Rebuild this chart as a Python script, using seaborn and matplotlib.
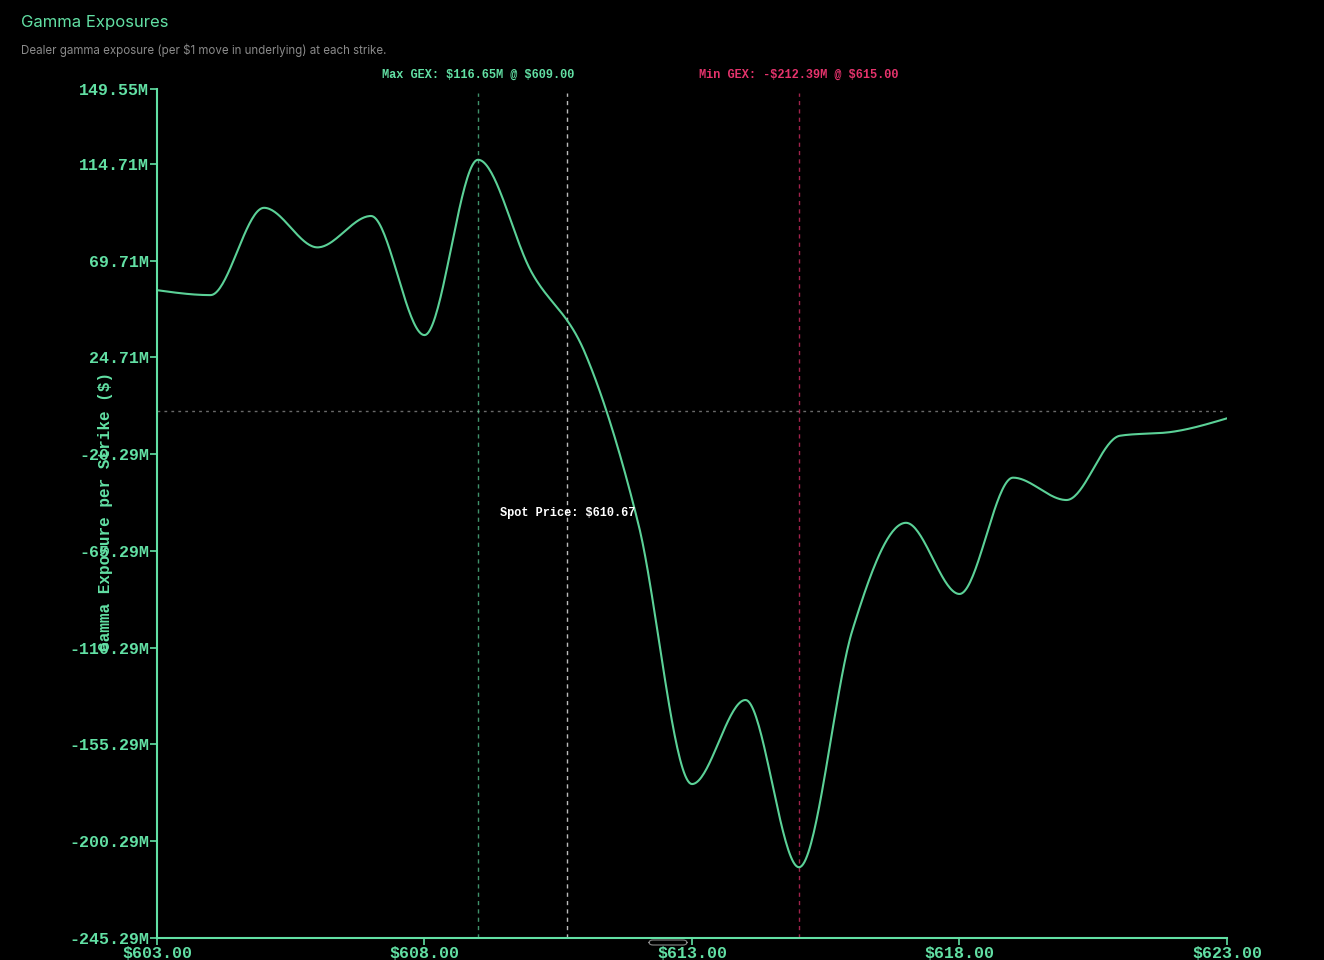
import numpy as np
import pandas as pd
import seaborn as sns
import matplotlib.pyplot as plt
from matplotlib.patches import FancyBboxPatch

# strikes and dealer gamma exposure (millions $)
strikes = [603, 604, 605, 606, 607, 608, 609, 610, 611, 612, 613,
           614, 615, 616, 617, 618, 619, 620, 621, 622, 623]
gex = [56.0, 53.7, 94.3, 75.9, 90.5, 35.1, 116.65, 64.4, 26.8, -53.0, -173.7,
       -134.6, -212.39, -102.0, -52.2, -85.3, -31.2, -41.6, -11.7, -9.8, -3.6]

spot = 610.67
max_strike, max_gex = 609.00, 116.65
min_strike, min_gex = 615.00, -212.39

x_ticks = [603, 608, 613, 618, 623]
y_ticks = [-245.29, -200.29, -155.29, -110.29, -65.29, -20.29, 24.71, 69.71, 114.71, 149.55]

GREEN = '#62e0a4'
LINE = '#5bd197'
PINK = '#e5336c'


def monotone_x(xs, ys, n=40):
    # same idea as d3.curveMonotoneX
    xs = np.asarray(xs, float)
    ys = np.asarray(ys, float)
    h = np.diff(xs)
    s = np.diff(ys) / h
    t = np.zeros_like(ys)
    for i in range(1, len(xs) - 1):
        p = (s[i - 1] * h[i] + s[i] * h[i - 1]) / (h[i - 1] + h[i])
        t[i] = (np.sign(s[i - 1]) + np.sign(s[i])) * min(abs(s[i - 1]), abs(s[i]), 0.5 * abs(p))
    t[0] = (3 * s[0] - t[1]) / 2
    t[-1] = (3 * s[-1] - t[-2]) / 2
    outx, outy = [], []
    for i in range(len(xs) - 1):
        u = np.linspace(0, 1, n, endpoint=False)
        h00 = 2 * u**3 - 3 * u**2 + 1
        h10 = u**3 - 2 * u**2 + u
        h01 = -2 * u**3 + 3 * u**2
        h11 = u**3 - u**2
        outx.append(xs[i] + u * h[i])
        outy.append(h00 * ys[i] + h10 * h[i] * t[i] + h01 * ys[i + 1] + h11 * h[i] * t[i + 1])
    outx.append([xs[-1]])
    outy.append([ys[-1]])
    return np.concatenate(outx), np.concatenate(outy)


sx, sy = monotone_x(strikes, gex)
curve = pd.DataFrame({'strike': sx, 'gex': sy})

sns.set_style('dark', {'axes.facecolor': 'black', 'figure.facecolor': 'black'})
plt.rcParams['font.family'] = ['Liberation Mono', 'DejaVu Sans Mono']
plt.rcParams['text.parse_math'] = False

fig = plt.figure(figsize=(13.24, 9.6), dpi=100, facecolor='black')
ax = fig.add_axes([157 / 1324, 1 - 938 / 960, 1070 / 1324, 849 / 960])
ax.set_facecolor('black')

lo, hi = min(gex), max(gex)
pad = (hi - lo) * 0.1
ax.set_ylim(lo - pad, hi + pad)
ax.set_xlim(strikes[0], strikes[-1])

ax.axhline(0, color='#6a6a6a', lw=1, dashes=(2, 3))
ax.axvline(max_strike, color=GREEN, alpha=0.65, lw=1, dashes=(3, 3), ymax=0.995)
ax.axvline(spot, color='#dddddd', alpha=0.85, lw=1, dashes=(3, 3), ymax=0.995)
ax.axvline(min_strike, color=PINK, alpha=0.7, lw=1, dashes=(3, 3), ymax=0.995)

sns.lineplot(data=curve, x='strike', y='gex', ax=ax, color=LINE, lw=1.5, sort=False)

for s in ['top', 'right']:
    ax.spines[s].set_visible(False)
for s in ['left', 'bottom']:
    ax.spines[s].set_color(GREEN)
    ax.spines[s].set_linewidth(1.5)

ax.set_xticks(x_ticks)
ax.set_xticklabels([f'${v:.2f}' for v in x_ticks])
ax.set_yticks(y_ticks)
ax.set_yticklabels([f'{v:.2f}M' for v in y_ticks])
ax.tick_params(axis='both', colors=GREEN, length=5, width=1.2, labelsize=12, pad=0.5,
               left=True, bottom=True, direction='out')
for lab in ax.get_xticklabels() + ax.get_yticklabels():
    lab.set_fontweight('bold')
ax.set_xlabel('')
ax.set_ylabel('Gamma Exposure per Strike ($)', color=GREEN, fontsize=11.5, fontweight='bold')
ax.yaxis.set_label_coords(-0.041, 0.502)
ax.grid(False)

ytop = hi + pad
ax.text(max_strike, ytop + 6.5, f'Max GEX: ${max_gex:.2f}M @ ${max_strike:.2f}',
        color=GREEN, fontsize=8.6, fontweight='bold', ha='center', va='center', clip_on=False)
ax.text(min_strike, ytop + 6.5, f'Min GEX: -${abs(min_gex):.2f}M @ ${min_strike:.2f}',
        color=PINK, fontsize=8.6, fontweight='bold', ha='center', va='center', clip_on=False)
ax.text(spot, ytop - (513 - 89) / 2.15, f'Spot Price: ${spot:.2f}',
        color='white', fontsize=8.6, fontweight='bold', ha='center', va='center')

fig.text(21 / 1324, 1 - 22 / 960, 'Gamma Exposures', color=GREEN, fontsize=12,
         family=['Inter', 'DejaVu Sans'], ha='left', va='center')
fig.text(21 / 1324, 1 - 50 / 960, 'Dealer gamma exposure (per $1 move in underlying) at each strike.',
         color='#8a8a8a', fontsize=8.3, family=['Inter', 'DejaVu Sans'], ha='left', va='center')

fig.patches.append(FancyBboxPatch((649 / 1324, 1 - 945 / 960), 38 / 1324, 5 / 960,
                                  boxstyle='round,pad=0,rounding_size=0.003',
                                  transform=fig.transFigure, facecolor='none',
                                  edgecolor='#888888', lw=0.8))

fig.savefig('out.png', dpi=100, facecolor='black')
